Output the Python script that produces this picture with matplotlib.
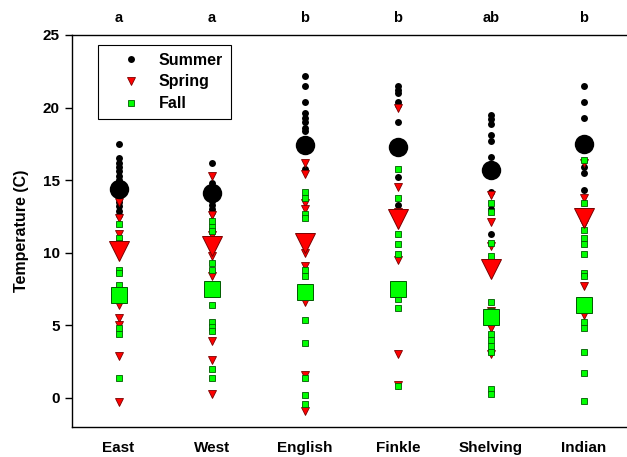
import matplotlib
matplotlib.use("Agg")
import matplotlib.pyplot as plt
from matplotlib.lines import Line2D

plt.rcParams['font.family'] = ['Liberation Sans', 'DejaVu Sans']
plt.rcParams['font.weight'] = 'bold'

# --- data ---
sites = ["East", "West", "English", "Finkle", "Shelving", "Indian"]
letters = ["a", "a", "b", "b", "ab", "b"]

summer = [
    [17.5, 16.5, 16.2, 15.9, 15.6, 15.3, 15.0, 14.7, 14.1, 13.8, 13.5, 13.2, 12.9, 12.6],
    [16.2, 14.8, 13.6, 13.3, 13.0, 12.8],
    [22.2, 21.5, 20.4, 19.6, 19.3, 19.0, 18.6, 18.4, 17.0, 15.8],
    [21.5, 21.2, 21.0, 20.4, 20.2, 19.0, 15.2, 13.3],
    [19.5, 19.2, 18.9, 18.1, 17.7, 16.6, 14.2, 13.0, 11.3],
    [21.5, 20.4, 19.3, 15.9, 15.5, 14.3],
]
spring = [
    [13.5, 12.4, 11.3, 10.0, 6.4, 5.5, 5.0, 2.9, -0.3],
    [15.3, 12.6, 11.2, 10.2, 9.8, 8.4, 3.9, 2.6, 0.3],
    [16.2, 15.4, 13.4, 13.0, 10.0, 9.1, 6.6, 1.6, -0.9],
    [20.0, 14.5, 12.8, 9.5, 3.0, 0.9],
    [14.0, 12.1, 10.5, 6.0, 4.8, 3.0],
    [16.2, 13.8, 12.0, 7.7, 5.7],
]
fall = [
    [12.0, 11.0, 10.7, 8.8, 8.6, 7.8, 4.8, 4.4, 1.4],
    [12.2, 11.8, 11.5, 9.3, 8.8, 6.4, 5.2, 4.9, 4.6, 2.0, 1.4],
    [14.2, 13.8, 12.7, 12.4, 8.8, 8.4, 5.4, 3.8, 1.4, 0.2, -0.4],
    [15.8, 13.8, 11.3, 10.6, 9.9, 6.8, 6.2, 0.8],
    [13.4, 12.8, 10.7, 9.8, 6.6, 6.0, 4.4, 4.0, 3.6, 3.2, 0.6, 0.3],
    [16.4, 13.4, 11.6, 11.0, 10.6, 9.9, 8.6, 8.4, 5.2, 4.8, 3.2, 1.7, -0.2],
]
summer_mean = [14.4, 14.1, 17.4, 17.3, 15.7, 17.5]
spring_mean = [10.1, 10.5, 10.7, 12.3, 8.9, 12.4]
fall_mean = [7.1, 7.5, 7.3, 7.5, 5.6, 6.4]

RED = '#ff0000'
RED_EDGE = '#7a0000'
GREEN = '#00ff00'
GREEN_EDGE = '#005a00'

fig = plt.figure(figsize=(6.27, 4.57), dpi=100)
# right edge of the frame falls just outside the picture, as in the reference
ax = fig.add_axes([72 / 627, 1 - 427 / 457, 558.6 / 627, 392 / 457])

for i in range(len(sites)):
    ax.plot([i] * len(summer[i]), summer[i], 'o', color='black', ms=5, mew=0, zorder=3)
    ax.plot([i] * len(spring[i]), spring[i], 'v', color=RED, mec=RED_EDGE, ms=5.8, mew=0.6, zorder=3)
    ax.plot([i] * len(fall[i]), fall[i], 's', color=GREEN, mec=GREEN_EDGE, ms=4.4, mew=0.6, zorder=3)

x = list(range(len(sites)))
ax.plot(x, summer_mean, 'o', ls='none', color='black', ms=14, mew=0, zorder=4)
ax.plot(x, spring_mean, 'v', ls='none', color=RED, mec=RED_EDGE, ms=15, mew=0.7, zorder=4)
ax.plot(x, fall_mean, 's', ls='none', color=GREEN, mec=GREEN_EDGE, ms=12, mew=0.7, zorder=4)

for i, lab in enumerate(letters):
    ax.text(i, 26.2, lab, ha='center', va='center', fontsize=10.5, fontweight='bold', clip_on=False)

ax.set_xlim(-0.5, 5.5)
ax.set_ylim(-2, 25)
ax.set_xticks(x)
ax.set_xticklabels(sites, fontsize=11, fontweight='bold')
ax.tick_params(axis='x', length=0, pad=10)
ax.set_yticks([0, 5, 10, 15, 20, 25])
ax.tick_params(axis='y', direction='out', length=5, width=1, labelsize=11, pad=4)
for t in ax.get_yticklabels():
    t.set_fontweight('bold')
ax.set_ylabel("Temperature (C)", fontsize=11.5, fontweight='bold', labelpad=10)
for s in ax.spines.values():
    s.set_linewidth(1.0)

handles = [
    Line2D([], [], marker='o', ls='none', color='black', ms=5, mew=0),
    Line2D([], [], marker='v', ls='none', color=RED, mec=RED_EDGE, ms=5.8, mew=0.6),
    Line2D([], [], marker='s', ls='none', color=GREEN, mec=GREEN_EDGE, ms=4.4, mew=0.6),
]
leg = ax.legend(handles, ["Summer", "Spring", "Fall"], loc='upper left',
                bbox_to_anchor=(0.046, 0.975), fancybox=False, edgecolor='black',
                framealpha=1, prop={'weight': 'bold', 'size': 11.5},
                handletextpad=0.1, borderpad=0.5, labelspacing=0.42, borderaxespad=0,
                handlelength=3.2)
leg.get_frame().set_linewidth(0.8)

fig.savefig("out.png", dpi=100)
